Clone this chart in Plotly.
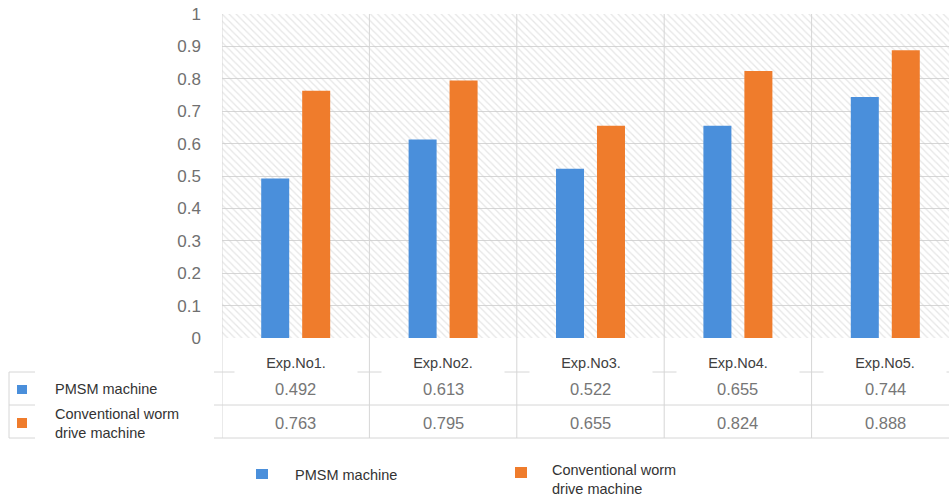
import plotly.graph_objects as go

categories = ["Exp.No1.", "Exp.No2.", "Exp.No3.", "Exp.No4.", "Exp.No5."]
series_names = ["PMSM machine", "Conventional worm<br>drive machine"]
pmsm = [0.492, 0.613, 0.522, 0.655, 0.744]
worm = [0.763, 0.795, 0.655, 0.824, 0.888]
colors = ["#4a8fdb", "#ef7c2c"]
y_ticks = [0, 0.1, 0.2, 0.3, 0.4, 0.5, 0.6, 0.7, 0.8, 0.9, 1]

W, H = 949, 497
L, T, B = 222, 14, 159
PW, PH = W - L, H - T - B
n = len(categories)
xs = list(range(n))
XMIN = -0.5
XMAX = n - 0.5 - 10.0 / 147.5

def px_x(p):
    return (p - L) / PW

def px_y(p):
    return (H - B - p) / PH

fig = go.Figure()

# hatched plot-area background (a single full-range bar drawn first)
fig.add_trace(go.Bar(
    x=[(n - 1) / 2], y=[y_ticks[-1]], width=[n],
    marker=dict(color="rgba(0,0,0,0)", line=dict(width=0),
                pattern=dict(shape="\\", fgcolor="#cdcdcd", bgcolor="rgba(0,0,0,0)",
                             size=5, solidity=0.25)),
    hoverinfo="skip", showlegend=False))

bar_w = 0.19
offsets = [-0.234, 0.044]
for vals, name, col, off in zip([pmsm, worm], series_names, colors, offsets):
    fig.add_trace(go.Bar(x=xs, y=vals, name=name, marker=dict(color=col, line=dict(width=0)),
                         width=bar_w, offset=off, showlegend=False))

shapes = []
line_col = "#d6d6d6"
y_tab_top, y_row_sep, y_tab_bot = px_y(372), px_y(405), px_y(438)
# vertical separators through plot and table
for i in range(n):
    shapes.append(dict(type="line", xref="x", yref="paper", x0=i - 0.5, x1=i - 0.5,
                       y0=y_tab_bot, y1=1, line=dict(color=line_col, width=1), layer="above"))
# horizontal table lines
for yy in [y_tab_top, y_row_sep, y_tab_bot]:
    shapes.append(dict(type="line", xref="paper", yref="paper", x0=px_x(9), x1=1.0,
                       y0=yy, y1=yy, line=dict(color=line_col, width=1), layer="above"))
# table left border
shapes.append(dict(type="line", xref="paper", yref="paper", x0=px_x(9), x1=px_x(9),
                   y0=y_tab_bot, y1=y_tab_top, line=dict(color=line_col, width=1), layer="above"))
# table legend keys
key_rows = [(385, 394), (418, 428)]
for (ya, yb), col in zip(key_rows, colors):
    shapes.append(dict(type="rect", xref="paper", yref="paper", x0=px_x(17), x1=px_x(27),
                       y0=px_y(yb), y1=px_y(ya), fillcolor=col, line=dict(width=0), layer="above"))
# white cover behind label column
shapes.append(dict(type="rect", xref="paper", yref="paper", x0=px_x(35), x1=px_x(214),
                   y0=px_y(441), y1=px_y(369), fillcolor="white", line=dict(width=0), layer="above"))
# bottom legend keys
leg_keys = [(256, 268, 469, 479), (515, 527, 467, 478)]
for (xa, xb, ya, yb), col in zip(leg_keys, colors):
    shapes.append(dict(type="rect", xref="paper", yref="paper", x0=px_x(xa), x1=px_x(xb),
                       y0=px_y(yb), y1=px_y(ya), fillcolor=col, line=dict(width=0), layer="above"))

font_main = "Liberation Sans, Arial, sans-serif"
ann = []
# header row
for i, c in enumerate(categories):
    ann.append(dict(x=i, y=px_y(363), xref="x", yref="paper", text=c, showarrow=False,
                    font=dict(family=font_main, size=14.5, color="#404040"),
                    bgcolor="white", width=120, height=22, xanchor="center", yanchor="middle"))
# value rows
for vals, yrow in zip([pmsm, worm], [389, 423]):
    for i, v in enumerate(vals):
        ann.append(dict(x=i, y=px_y(yrow), xref="x", yref="paper", text=f"{v:.3f}", showarrow=False,
                        font=dict(family=font_main, size=16.5, color="#767676"),
                        xanchor="center", yanchor="middle"))
# row labels
for name, yrow in zip(series_names, [389, 423]):
    ann.append(dict(x=px_x(53), y=px_y(yrow), xref="paper", yref="paper", text=name,
                    showarrow=False, align="left", xanchor="left", yanchor="middle",
                    font=dict(family=font_main, size=14.5, color="#333333")))
# bottom legend labels
for name, (xx, yy) in zip(series_names, [(293, 475), (550, 479)]):
    ann.append(dict(x=px_x(xx), y=px_y(yy), xref="paper", yref="paper", text=name,
                    showarrow=False, align="left", xanchor="left", yanchor="middle",
                    font=dict(family=font_main, size=14.5, color="#333333")))

fig.update_layout(
    width=W, height=H, margin=dict(l=L, r=0, t=T, b=B, pad=0),
    paper_bgcolor="white", plot_bgcolor="white", barmode="overlay",
    shapes=shapes, annotations=ann, showlegend=False,
    xaxis=dict(range=[XMIN, XMAX], showticklabels=False, showgrid=False, zeroline=False,
               showline=False, ticks="", fixedrange=True),
    yaxis=dict(range=[0, 1], tickvals=y_ticks, ticktext=[f"{t:g}" for t in y_ticks],
               showgrid=True, gridcolor="#d6d6d6", gridwidth=1, zeroline=False,
               showline=False, ticks="", ticklabelstandoff=20,
               tickfont=dict(family=font_main, size=17, color="#707070")),
)

fig.write_html("out.html")
